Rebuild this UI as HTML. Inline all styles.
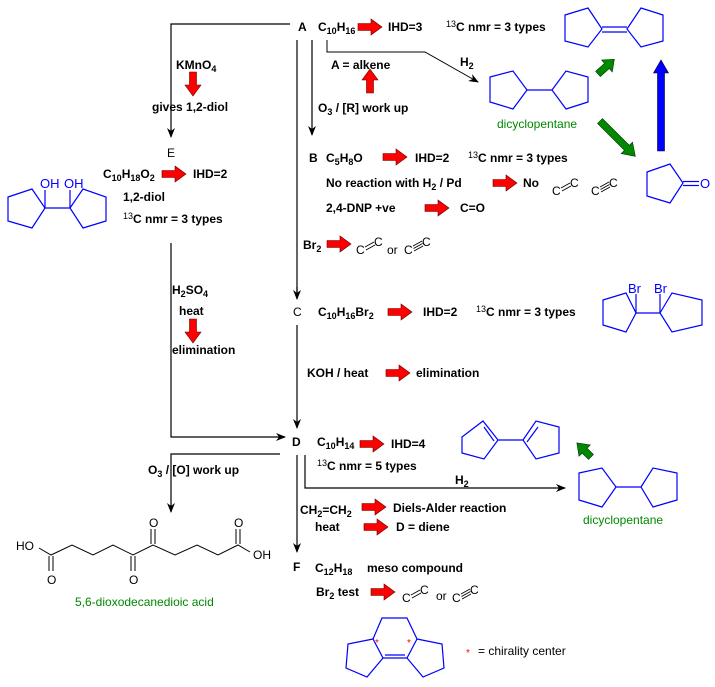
<!DOCTYPE html>
<html><head><meta charset="utf-8"><style>
body{margin:0;background:#fff;}
svg{display:block;}
text{font-family:"Liberation Sans",Arial,sans-serif;}
.b{font-weight:bold;font-size:12px;fill:#000;}
.n{font-size:12px;fill:#000;}
.bl{font-size:13px;fill:#00f;}
.g{font-size:12px;fill:#080;}
.ring{fill:none;stroke:#00f;stroke-width:1.2;}
.ln{stroke:#000;stroke-width:1.2;fill:none;}
.ra{fill:#f00;stroke:#600;stroke-width:0.6;}
.cc{font-size:12px;fill:#000;}
.bd{stroke:#000;stroke-width:0.9;}
</style></head><body>
<svg width="715" height="687" viewBox="0 0 715 687" xmlns="http://www.w3.org/2000/svg">
<defs>
<marker id="ah" markerWidth="10" markerHeight="8" refX="9" refY="4" orient="auto" markerUnits="userSpaceOnUse"><path d="M0,0 L10,4 L0,8 L3,4 z" fill="#000"/></marker>
<g id="rarr"><polygon class="ra" points="0,-3.5 13,-3.5 13,-8 24,0 13,8 13,3.5 0,3.5"/></g>
<g id="dbl"><text class="cc" x="0" y="16">C</text><text class="cc" x="18" y="8">C</text>
<line class="bd" x1="9" y1="9" x2="18" y2="4"/><line class="bd" x1="10" y1="12" x2="19" y2="7"/></g>
<g id="tpl"><text class="cc" x="0" y="16">C</text><text class="cc" x="18" y="8">C</text>
<line class="bd" x1="9" y1="8" x2="18" y2="3"/><line class="bd" x1="9.5" y1="10.5" x2="18.5" y2="5.5"/><line class="bd" x1="10" y1="13" x2="19" y2="8"/></g>
</defs>

<!-- connectors -->
<polyline class="ln" points="290,24 171,24 171,137" marker-end="url(#ah)"/>
<line class="ln" x1="312" y1="40" x2="312" y2="135" marker-end="url(#ah)"/>
<line class="ln" x1="297" y1="40" x2="297" y2="298"/>
<line class="ln" x1="297" y1="287" x2="297" y2="299" marker-end="url(#ah)"/>
<line class="ln" x1="297" y1="325" x2="297" y2="428" marker-end="url(#ah)"/>
<polyline class="ln" points="327,40 327,52 425,52 478,82" marker-end="url(#ah)" style="stroke-width:1"/>
<polyline class="ln" points="171,243 171,437 285,437" marker-end="url(#ah)"/>
<polyline class="ln" points="280,454 171,454 171,512" marker-end="url(#ah)"/>
<line class="ln" x1="297" y1="455" x2="297" y2="552" marker-end="url(#ah)"/>
<polyline class="ln" points="305,455 305,488 565,488" marker-end="url(#ah)"/>

<!-- red arrows -->
<use href="#rarr" x="358" y="27"/>
<use href="#rarr" transform="translate(370,93) rotate(-90)"/>
<use href="#rarr" transform="translate(193,72) rotate(90)"/>
<use href="#rarr" x="162" y="174"/>
<use href="#rarr" x="383" y="157"/>
<use href="#rarr" x="493" y="183"/>
<use href="#rarr" x="425" y="208"/>
<use href="#rarr" x="327" y="244"/>
<use href="#rarr" x="388" y="312"/>
<use href="#rarr" transform="translate(193,319) rotate(90)"/>
<use href="#rarr" x="386" y="373"/>
<use href="#rarr" x="360" y="444"/>
<use href="#rarr" x="362" y="507"/>
<use href="#rarr" x="364" y="527"/>
<use href="#rarr" x="371" y="592"/>

<!-- green & blue arrows -->
<polygon fill="#080" stroke="#030" stroke-width="0.6" points="0,-3.5 12,-3.5 12,-8 22,0 12,8 12,3.5 0,3.5" transform="translate(598,74) rotate(-42)"/>
<polygon fill="#080" stroke="#030" stroke-width="0.6" points="0,-3.5 38,-3.5 38,-8 50,0 38,8 38,3.5 0,3.5" transform="translate(600,121) rotate(45)"/>
<polygon fill="#00f" stroke="#003" stroke-width="0.6" points="0,-3.5 78,-3.5 78,-7.5 91,0 78,7.5 78,3.5 0,3.5" transform="translate(661,151) rotate(-90)"/>
<polygon fill="#080" stroke="#030" stroke-width="0.6" points="0,-3.5 9,-3.5 9,-8 20,0 9,8 9,3.5 0,3.5" transform="translate(591,457) rotate(-135)"/>

<!-- top row A -->
<text class="b" x="298" y="31">A</text>
<text class="b" x="318" y="31">C<tspan font-size="9" dy="3">10</tspan><tspan dy="-3">H</tspan><tspan font-size="9" dy="3">16</tspan></text>
<text class="b" x="388" y="31">IHD=3</text>
<text class="b" x="446" y="31"><tspan font-size="9" font-weight="normal" dy="-4">13</tspan><tspan dy="4">C nmr = 3 types</tspan></text>
<text class="b" x="331" y="69">A = alkene</text>
<text class="b" x="460" y="66">H<tspan font-size="9" dy="3">2</tspan></text>
<text class="b" x="318" y="112">O<tspan font-size="9" dy="3">3</tspan><tspan dy="-3"> / [R] work up</tspan></text>
<text class="b" x="176" y="69">KMnO<tspan font-size="9" dy="3">4</tspan></text>
<text class="b" x="152" y="111">gives 1,2-diol</text>

<!-- E -->
<text class="n" x="167" y="157">E</text>
<text class="b" x="103" y="178">C<tspan font-size="9" dy="3">10</tspan><tspan dy="-3">H</tspan><tspan font-size="9" dy="3">18</tspan><tspan dy="-3">O</tspan><tspan font-size="9" dy="3">2</tspan></text>
<text class="b" x="193" y="178">IHD=2</text>
<text class="b" x="123" y="201">1,2-diol</text>
<text class="b" x="123" y="223"><tspan font-size="9" font-weight="normal" dy="-4">13</tspan><tspan dy="4">C nmr = 3 types</tspan></text>
<polygon class="ring" points="8,197 32,189 45,208 32,228 8,221"/>
<polygon class="ring" points="70,208 83,189 106,197 106,221 83,228"/>
<line class="ring" x1="45" y1="208" x2="70" y2="208"/><line class="ring" x1="45" y1="208" x2="45" y2="190"/><line class="ring" x1="70" y1="208" x2="70" y2="190"/>
<text class="bl" x="40" y="188">OH</text><text class="bl" x="64" y="188">OH</text>

<!-- B -->
<text class="b" x="309" y="162">B</text>
<text class="b" x="326" y="162">C<tspan font-size="9" dy="3">5</tspan><tspan dy="-3">H</tspan><tspan font-size="9" dy="3">8</tspan><tspan dy="-3">O</tspan></text>
<text class="b" x="415" y="162">IHD=2</text>
<text class="b" x="468" y="162"><tspan font-size="9" font-weight="normal" dy="-4">13</tspan><tspan dy="4">C nmr = 3 types</tspan></text>
<text class="b" x="326" y="187">No reaction with H<tspan font-size="9" dy="3">2</tspan><tspan dy="-3"> / Pd</tspan></text>
<text class="b" x="523" y="187">No</text>
<text class="b" x="326" y="212">2,4-DNP +ve</text>
<text class="b" x="460" y="212">C=O</text>
<use href="#dbl" x="552" y="179"/>
<use href="#tpl" x="591" y="179"/>
<text class="b" x="303" y="249">Br<tspan font-size="9" dy="3">2</tspan></text>
<use href="#dbl" x="356" y="238"/>
<text class="cc" x="387" y="254">or</text>
<use href="#tpl" x="404" y="238"/>

<!-- top right structures -->
<polygon class="ring" points="565,15 588,8 602,29 588,47 565,41"/>
<polygon class="ring" points="627,29 641,8 663,15 663,41 641,47"/>
<line class="ring" x1="602" y1="27" x2="627" y2="27"/><line class="ring" x1="602" y1="32" x2="627" y2="32"/>
<polygon class="ring" points="490,77 513,71 527,90 513,109 490,102"/>
<polygon class="ring" points="552,90 566,71 588,77 588,102 566,109"/>
<line class="ring" x1="527" y1="90" x2="552" y2="90"/>
<text class="g" x="497" y="128">dicyclopentane</text>
<polygon class="ring" points="647,172 670,164 683,183 670,203 647,196"/>
<line class="ring" x1="683" y1="181.5" x2="699" y2="181.5"/><line class="ring" x1="683" y1="185.5" x2="699" y2="185.5"/>
<text class="bl" x="700" y="188" font-size="12">O</text>

<!-- H2SO4 -->
<text class="b" x="172" y="294">H<tspan font-size="9" dy="3">2</tspan><tspan dy="-3">SO</tspan><tspan font-size="9" dy="3">4</tspan></text>
<text class="b" x="179" y="315">heat</text>
<text class="b" x="172" y="354">elimination</text>

<!-- C -->
<text class="n" x="293" y="316">C</text>
<text class="b" x="318" y="316">C<tspan font-size="9" dy="3">10</tspan><tspan dy="-3">H</tspan><tspan font-size="9" dy="3">16</tspan><tspan dy="-3">Br</tspan><tspan font-size="9" dy="3">2</tspan></text>
<text class="b" x="423" y="316">IHD=2</text>
<text class="b" x="476" y="316"><tspan font-size="9" font-weight="normal" dy="-4">13</tspan><tspan dy="4">C nmr = 3 types</tspan></text>
<polygon class="ring" points="603,300 626,293 636,313 626,332 603,325"/>
<polygon class="ring" points="660,313 672,293 702,300 702,325 672,332"/>
<line class="ring" x1="636" y1="313" x2="660" y2="313"/><line class="ring" x1="636" y1="313" x2="636" y2="294"/><line class="ring" x1="660" y1="313" x2="660" y2="294"/>
<text class="bl" x="628" y="293" font-size="12">Br</text><text class="bl" x="654" y="293" font-size="12">Br</text>
<text class="b" x="307" y="377">KOH / heat</text>
<text class="b" x="416" y="377">elimination</text>

<!-- D -->
<text class="b" x="292" y="446">D</text>
<text class="b" x="317" y="446">C<tspan font-size="9" dy="3">10</tspan><tspan dy="-3">H</tspan><tspan font-size="9" dy="3">14</tspan></text>
<text class="b" x="391" y="448">IHD=4</text>
<text class="b" x="317" y="470"><tspan font-size="9" font-weight="normal" dy="-4">13</tspan><tspan dy="4">C nmr = 5 types</tspan></text>
<text class="b" x="455" y="484">H<tspan font-size="9" dy="3">2</tspan></text>
<text class="b" x="148" y="474">O<tspan font-size="9" dy="3">3</tspan><tspan dy="-3"> / [O] work up</tspan></text>
<text class="b" x="300" y="514">CH<tspan font-size="9" dy="3">2</tspan><tspan dy="-3">=CH</tspan><tspan font-size="9" dy="3">2</tspan></text>
<text class="b" x="315" y="531">heat</text>
<text class="b" x="393" y="512">Diels-Alder reaction</text>
<text class="b" x="396" y="531">D = diene</text>
<polygon class="ring" points="462,437 483,421 498,440 484,459 462,453"/>
<line class="ring" x1="484" y1="427" x2="494" y2="441"/>
<polygon class="ring" points="523,440 536,421 559,427 559,453 536,459"/>
<line class="ring" x1="527" y1="442" x2="538" y2="427"/>
<line class="ring" x1="498" y1="440" x2="523" y2="440"/>
<polygon class="ring" points="579,473 602,468 616,487 602,507 579,500"/>
<polygon class="ring" points="641,487 653,468 677,473 677,500 653,507"/>
<line class="ring" x1="616" y1="487" x2="641" y2="487"/>
<text class="g" x="583" y="524">dicyclopentane</text>

<!-- diacid -->
<g class="ln" style="stroke-width:1">
<polyline points="39,548 51,555 72,545 93,555 113,545 133,555 153,545 175,555 197,545 218,555 238,545 250,552"/>
<line x1="49" y1="556" x2="49" y2="571"/><line x1="53" y1="556" x2="53" y2="571"/>
<line x1="131" y1="556" x2="131" y2="571"/><line x1="135" y1="556" x2="135" y2="571"/>
<line x1="151" y1="544" x2="151" y2="529"/><line x1="155" y1="544" x2="155" y2="529"/>
<line x1="236" y1="544" x2="236" y2="529"/><line x1="240" y1="544" x2="240" y2="529"/>
</g>
<g class="n"><text x="16" y="550">HO</text><text x="47" y="584">O</text><text x="129" y="584">O</text><text x="149" y="527">O</text><text x="234" y="527">O</text><text x="253" y="559">OH</text></g>
<text class="g" x="75" y="606">5,6-dioxodecanedioic acid</text>

<!-- F -->
<text class="b" x="293" y="571">F</text>
<text class="b" x="315" y="572">C<tspan font-size="9" dy="3">12</tspan><tspan dy="-3">H</tspan><tspan font-size="9" dy="3">18</tspan></text>
<text class="b" x="367" y="572">meso compound</text>
<text class="b" x="316" y="596">Br<tspan font-size="9" dy="3">2</tspan><tspan dy="-3"> test</tspan></text>
<use href="#dbl" x="402" y="586"/>
<text class="cc" x="436" y="600">or</text>
<use href="#tpl" x="452" y="586"/>
<polygon class="ring" points="382,618 407,618 417,639 407,658 383,658 373,639"/>
<line class="ring" x1="385" y1="655" x2="405" y2="655"/>
<polyline class="ring" points="417,639 442,644 444,668 423,677 407,658"/>
<polyline class="ring" points="373,639 348,644 346,668 367,677 383,658"/>
<text x="375" y="646" font-size="10" fill="#f00">*</text><text x="407" y="646" font-size="10" fill="#f00">*</text>
<text x="466" y="656" font-size="10" fill="#f00">*</text>
<text class="n" x="478" y="655" font-size="12">= chirality center</text>
</svg>
</body></html>
